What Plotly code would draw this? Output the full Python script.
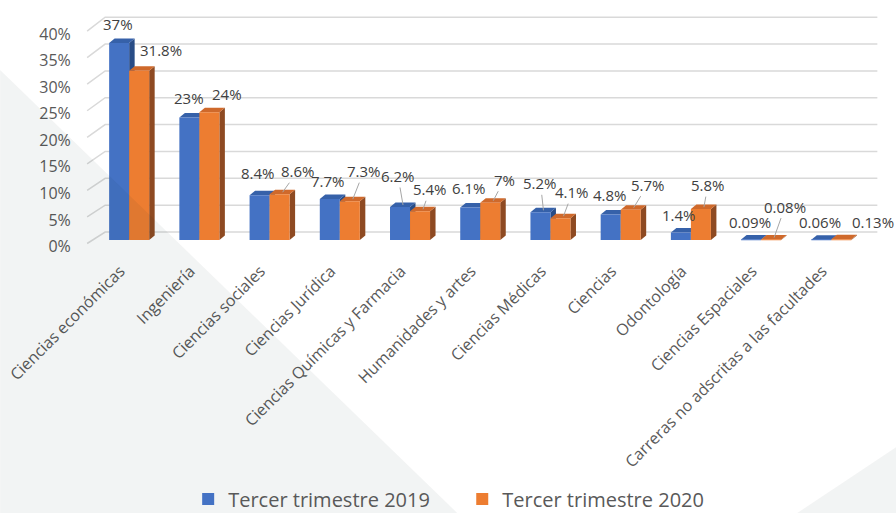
import plotly.graph_objects as go
import numpy as np

# ---------------- data ----------------
categorias = [
    "Ciencias económicas", "Ingeniería", "Ciencias sociales", "Ciencias Jurídica",
    "Ciencias Químicas y Farmacia", "Humanidades y artes", "Ciencias Médicas",
    "Ciencias", "Odontología", "Ciencias Espaciales",
    "Carreras no adscritas a las facultades",
]
serie_2019 = [37, 23, 8.4, 7.7, 6.2, 6.1, 5.2, 4.8, 1.4, 0.09, 0.06]
serie_2020 = [31.8, 24, 8.6, 7.3, 5.4, 7, 4.1, 5.7, 5.8, 0.08, 0.13]
nombres = ["Tercer trimestre 2019", "Tercer trimestre 2020"]
ticks_y = [0, 5, 10, 15, 20, 25, 30, 35, 40]
ticks_y_text = ["0%", "5%", "10%", "15%", "20%", "25%", "30%", "35%", "40%"]

# ---------------- style / layout constants (pixels) ----------------
W, H = 896, 513
X0_PX, X_STEP = 129.0, 70.2       # pixel of first category centre, spacing
Y0_PX, Y_PER = 240.0, 5.325       # pixel of value 0 (front), pixels per %
X_RANGE = [-0.7, 10.75]
Y_RANGE = [-1.6, 42.6]
RT, RB = 10, 260                  # plot region top / bottom in pixels
DX, DY = 5.5, 4.5                 # 3D depth of bars (px)
BAR_W = 0.285

colores_frente = ["#4472C4", "#ED7D31"]
colores_techo = ["#3661A9", "#CF692B"]
colores_lado = ["#284C86", "#8E4A22"]
GRID = "#D9D9D9"
TXT = "#404040"
FONT = "Open Sans"

def xpx(u):
    return X0_PX + X_STEP * u

def ypx(v):
    return Y0_PX - Y_PER * v

PLOT_L, PLOT_R = xpx(X_RANGE[0]), xpx(X_RANGE[1])
dx_u = DX / X_STEP
dy_u = DY / Y_PER

def paper_x(px):
    return (px - PLOT_L) / (PLOT_R - PLOT_L)

def paper_y(py):
    return (RB - py) / (RB - RT)

def data_x(px):
    return (px - X0_PX) / X_STEP

def data_y(py):
    return (Y0_PX - py) / Y_PER

y_dom = [paper_y(ypx(Y_RANGE[0])), paper_y(ypx(Y_RANGE[1]))]
# tick-label axis sits slightly lower (front edge of the 3D side wall)
LBL0, LBL_PER = 246.5, 5.31
y2_dom = [paper_y(LBL0), paper_y(LBL0 - LBL_PER * 40)]

x_pos = np.arange(len(categorias))
offs = [-BAR_W / 2, BAR_W / 2]
series = [serie_2019, serie_2020]
legend_ids = ["legend", "legend2"]

fig = go.Figure()
for k in range(2):
    fig.add_trace(go.Bar(
        x=x_pos, y=series[k], name=nombres[k], legend=legend_ids[k],
        marker=dict(color=colores_frente[k], line=dict(width=0)),
        hoverinfo="skip",
    ))
# invisible trace registering the tick-label axis
fig.add_trace(go.Scatter(x=[0], y=[None], yaxis="y2", showlegend=False,
                         hoverinfo="skip", mode="markers"))

shapes = []
# background decoration (light grey triangles)
def tri(pts, color):
    p = "M " + " L ".join(f"{paper_x(a):.5f},{paper_y(b):.5f}" for a, b in pts) + " Z"
    return dict(type="path", path=p, xref="paper", yref="paper",
                fillcolor=color, line=dict(width=0), layer="above")

shapes.append(tri([(0, 70), (457, 513), (0, 513)], "rgba(0,45,45,0.05)"))
shapes.append(tri([(797, 513), (896, 447), (896, 513)], "rgba(0,45,45,0.05)"))

# back wall gridlines + side-wall diagonals
for v in ticks_y:
    y_front = data_y(243.5 - 5.31 * v)
    y_back = data_y(232.0 - 5.37 * v)
    p = (f"M {data_x(87):.4f},{y_front:.4f} L {data_x(105):.4f},{y_back:.4f} "
         f"L {data_x(877):.4f},{y_back:.4f}")
    shapes.append(dict(type="path", path=p, xref="x", yref="y",
                       line=dict(color=GRID, width=1.5), layer="below"))

# 3D faces (side + top) of each bar
for k in range(2):
    for i, v in enumerate(series[k]):
        xl = i + offs[k] - BAR_W / 2
        xr = i + offs[k] + BAR_W / 2
        side = (f"M {xr},{0} L {xr + dx_u},{dy_u} L {xr + dx_u},{v + dy_u} "
                f"L {xr},{v} Z")
        top = (f"M {xl},{v} L {xr},{v} L {xr + dx_u},{v + dy_u} "
               f"L {xl + dx_u},{v + dy_u} Z")
        shapes.append(dict(type="path", path=side, xref="x", yref="y",
                           fillcolor=colores_lado[k], line=dict(width=0), layer="below"))
        shapes.append(dict(type="path", path=top, xref="x", yref="y",
                           fillcolor=colores_techo[k], line=dict(width=0), layer="below"))

# data labels: text centre offset from the bar's top (px), and leader-line flags
lbl_dx = [[-1, 0, -2, -2, -2, -1, 0, -1, -2, -1, -1],
          [22, 18, 18, 14, 10, 14, 12, 17, 7, 14, 32]]
lbl_dy = [[-19, -19.5, -22, -18, -31, -19.5, -29, -19, -17.5, -17.5, -18],
          [-21, -18, -23, -30, -22, -23, -26, -25, -24, -33, -17]]
leader = [[0, 0, 0, 0, 1, 0, 1, 0, 0, 0, 0],
          [0, 0, 1, 1, 1, 1, 1, 1, 1, 1, 0]]

annotations = []
for k in range(2):
    for i, v in enumerate(series[k]):
        sx, sy = (3, 2) if leader[k][i] else (0, 0)
        annotations.append(dict(
            x=i + offs[k], y=v, xref="x", yref="y",
            text=f"{v:g}%", showarrow=True, arrowhead=0, arrowwidth=1,
            arrowcolor="#A6A6A6" if leader[k][i] else "rgba(0,0,0,0)",
            standoff=0,
            xshift=sx, yshift=sy,
            ax=lbl_dx[k][i] - sx, ay=lbl_dy[k][i] + sy,
            font=dict(family=FONT, size=15, color=TXT),
        ))

leg_common = dict(orientation="h", xanchor="left", yanchor="middle",
                  y=paper_y(499), bgcolor="rgba(0,0,0,0)", borderwidth=0,
                  font=dict(family=FONT, size=20, color="#595959"))

fig.update_layout(
    width=W, height=H,
    margin=dict(l=PLOT_L, r=W - PLOT_R, t=RT, b=H - RB, autoexpand=False),
    paper_bgcolor="white", plot_bgcolor="rgba(0,0,0,0)",
    barmode="group", bargap=1 - 2 * BAR_W, bargroupgap=0,
    font=dict(family=FONT, color=TXT),
    xaxis=dict(
        range=X_RANGE, tickvals=list(x_pos), ticktext=categorias,
        tickangle=-45, showgrid=False, zeroline=False, showline=False,
        ticks="outside", ticklen=6, tickcolor="rgba(0,0,0,0)",
        ticklabelshift=-9, ticklabeloverflow="allow",
        tickfont=dict(family=FONT, size=16, color="#595959"),
    ),
    yaxis=dict(
        range=Y_RANGE, domain=y_dom, showticklabels=False, showgrid=False,
        zeroline=False, showline=False, ticks="",
    ),
    yaxis2=dict(
        type="linear", range=[0, 40], domain=y2_dom, anchor="x", side="left",
        tickmode="array", tickvals=ticks_y, ticktext=ticks_y_text,
        showgrid=False, zeroline=False, ticklabeloverflow="allow",
        showline=False, ticks="outside", ticklen=5, tickcolor="rgba(0,0,0,0)",
        tickfont=dict(family=FONT, size=16, color="#595959"),
    ),
    shapes=shapes,
    annotations=annotations,
    showlegend=True,
    legend=dict(x=paper_x(202 - 14), **leg_common),
    legend2=dict(x=paper_x(476 - 14), **leg_common),
)

fig.write_html(
    "out.html",
    config={"displayModeBar": False},
    post_script="document.body.style.margin='0px';document.body.style.overflow='hidden';",
)
